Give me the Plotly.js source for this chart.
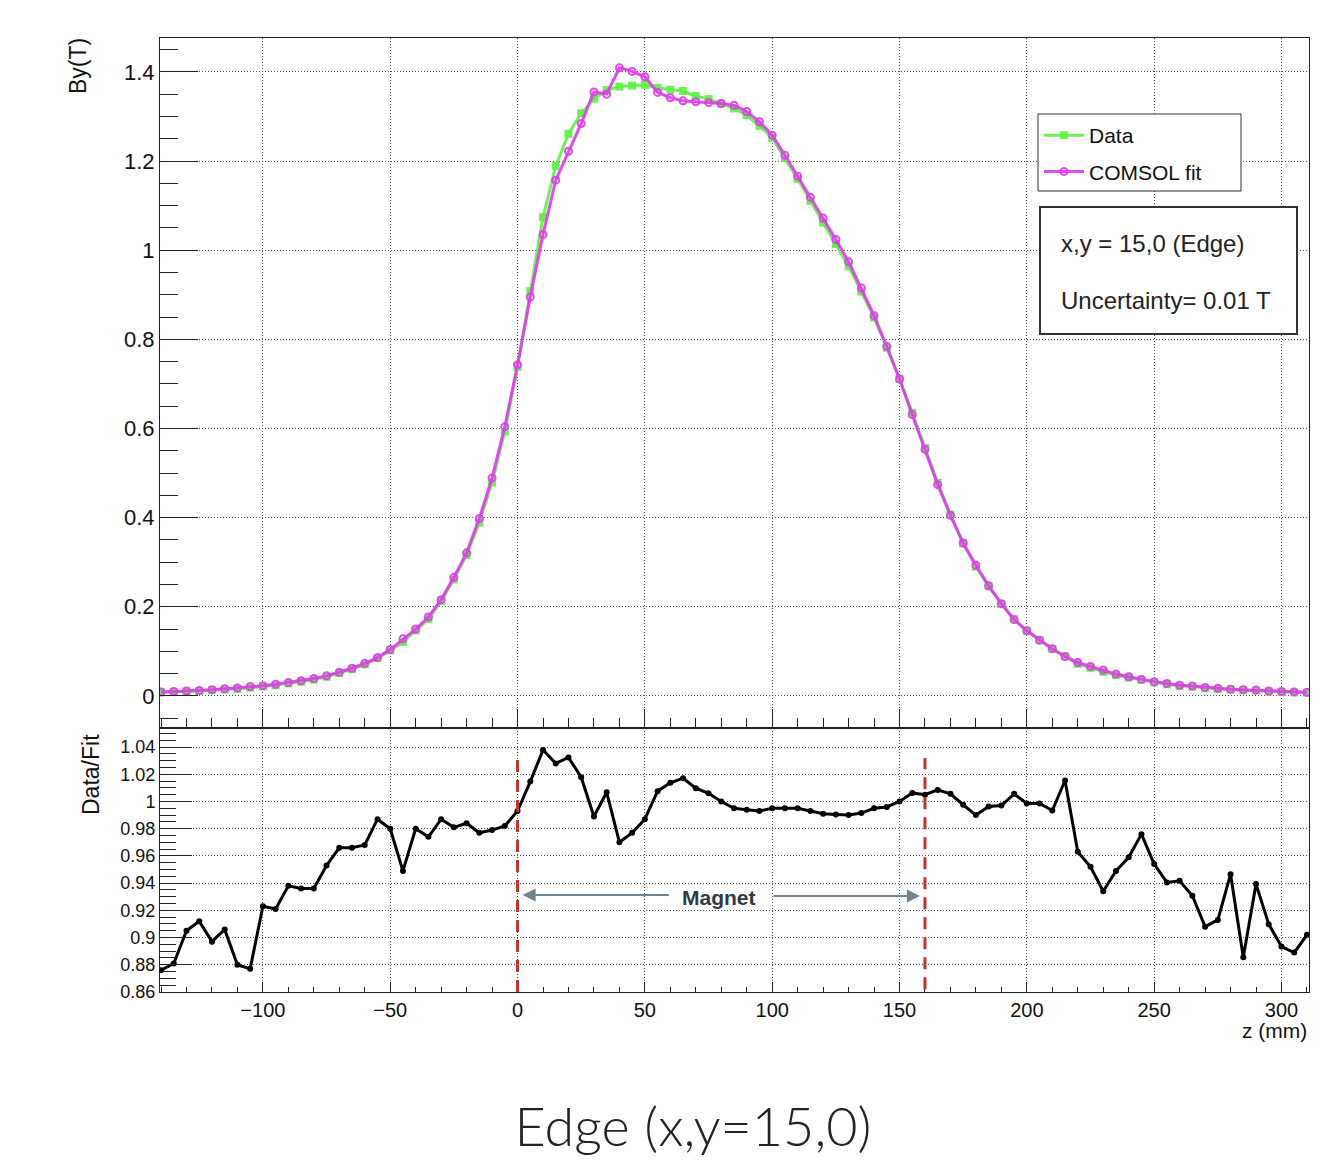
<!DOCTYPE html>
<html><head><meta charset="utf-8">
<script src="https://cdn.plot.ly/plotly-3.0.1.min.js"></script>
<style>html,body{margin:0;padding:0;background:#fff;}#chart{width:1331px;height:1161px;}</style>
</head><body><div id="chart"></div>
<script>
// z positions (mm)
const zPositions = [-140,-135,-130,-125,-120,-115,-110,-105,-100,-95,-90,-85,-80,-75,-70,-65,-60,-55,-50,-45,-40,-35,-30,-25,-20,-15,-10,-5,0,5,10,15,20,25,30,35,40,45,50,55,60,65,70,75,80,85,90,95,100,105,110,115,120,125,130,135,140,145,150,155,160,165,170,175,180,185,190,195,200,205,210,215,220,225,230,235,240,245,250,255,260,265,270,275,280,285,290,295,300,305,310];
// Measured By (T)
const dataBy = [0.0079,0.0088,0.0100,0.0109,0.0126,0.0145,0.0158,0.0184,0.0212,0.0239,0.0281,0.0318,0.0365,0.0429,0.0512,0.0599,0.0707,0.0849,0.102,0.121,0.147,0.172,0.213,0.261,0.316,0.389,0.479,0.593,0.738,0.908,1.074,1.189,1.261,1.307,1.340,1.359,1.367,1.369,1.371,1.364,1.360,1.357,1.346,1.339,1.329,1.318,1.303,1.279,1.252,1.207,1.160,1.111,1.062,1.014,0.964,0.907,0.849,0.781,0.711,0.635,0.556,0.478,0.407,0.342,0.290,0.246,0.206,0.172,0.146,0.125,0.105,0.089,0.072,0.063,0.054,0.0465,0.0412,0.0361,0.0305,0.0263,0.0226,0.0205,0.0173,0.0155,0.0142,0.0124,0.0122,0.0100,0.0089,0.0080,0.0072];
// COMSOL fit By (T)
const fitBy = [0.009,0.010,0.011,0.012,0.014,0.016,0.018,0.021,0.023,0.026,0.030,0.034,0.039,0.045,0.053,0.062,0.073,0.086,0.104,0.128,0.150,0.177,0.216,0.266,0.321,0.398,0.489,0.604,0.743,0.895,1.035,1.157,1.222,1.284,1.355,1.350,1.409,1.401,1.389,1.354,1.342,1.335,1.333,1.331,1.329,1.325,1.311,1.288,1.258,1.213,1.166,1.119,1.072,1.024,0.974,0.915,0.853,0.784,0.711,0.631,0.553,0.474,0.405,0.343,0.293,0.247,0.207,0.171,0.146,0.125,0.106,0.088,0.075,0.066,0.058,0.049,0.043,0.037,0.032,0.028,0.024,0.022,0.019,0.017,0.015,0.014,0.013,0.011,0.010,0.009,0.008];
// Data / Fit ratio
const ratio = [0.876,0.881,0.905,0.912,0.897,0.906,0.880,0.877,0.923,0.921,0.938,0.936,0.936,0.953,0.966,0.966,0.968,0.987,0.980,0.949,0.980,0.974,0.987,0.981,0.984,0.977,0.979,0.982,0.993,1.0146,1.0378,1.028,1.0324,1.0178,0.989,1.0068,0.970,0.977,0.987,1.0076,1.0137,1.0171,1.0098,1.006,1.000,0.995,0.994,0.993,0.995,0.995,0.995,0.993,0.991,0.9905,0.990,0.9915,0.995,0.996,1.000,1.0063,1.005,1.0085,1.0056,0.9976,0.990,0.9963,0.997,1.0056,0.9985,0.9985,0.9934,1.0154,0.963,0.952,0.934,0.949,0.959,0.976,0.954,0.9405,0.9417,0.9307,0.908,0.913,0.9466,0.8856,0.9393,0.9098,0.8934,0.889,0.902];
const seriesNames = ['Data', 'COMSOL fit'];
const magnetEdges = [0, 160];
const magnetLabel = 'Magnet';
const infoLines = ['x,y = 15,0 (Edge)', 'Uncertainty= 0.01 T'];

const FONT = 'Liberation Sans, Arial, Helvetica, sans-serif';
const GREEN = 'rgba(96,238,70,0.9)';
const MAGENTA = 'rgba(224,60,238,0.92)';
const GRID = '#555';

const traces = [
  {x: zPositions, y: dataBy, name: seriesNames[0], type: 'scatter', mode: 'lines+markers',
   xaxis: 'x', yaxis: 'y', legendgroup: 'a',
   line: {color: GREEN, width: 3}, marker: {symbol: 'square', size: 8, color: GREEN}},
  {x: zPositions, y: fitBy, name: seriesNames[1], type: 'scatter', mode: 'lines+markers',
   xaxis: 'x', yaxis: 'y', legendgroup: 'b',
   line: {color: MAGENTA, width: 3}, marker: {symbol: 'circle-open', size: 7, color: MAGENTA, line: {width: 2, color: MAGENTA}}},
  {x: zPositions, y: ratio, name: 'Data/Fit', type: 'scatter', mode: 'lines+markers',
   xaxis: 'x2', yaxis: 'y2', showlegend: false,
   line: {color: '#000', width: 3}, marker: {symbol: 'circle', size: 6, color: '#000'}}
];

const split = (992 - 728) / 954;
const xr = [-140.4, 310.8];
const px = v => (v - 160) / 1149;      // canvas x -> paper
const py = v => 1 - (v - 38) / 954;    // canvas y -> paper

const common = {showline: true, linecolor: '#222', linewidth: 1, mirror: true, zeroline: false,
  showgrid: true, gridcolor: GRID, griddash: '1px,2px', gridwidth: 1, ticks: 'inside', tickcolor: '#222',
  tickfont: {family: FONT, size: 20, color: '#111'}};

const layout = {
  width: 1331, height: 1161,
  margin: {l: 160, r: 22, t: 38, b: 169},
  paper_bgcolor: '#fff', plot_bgcolor: '#fff',
  showlegend: true,
  hovermode: false,
  title: {text: 'Edge (x,y=15,0)', font: {family: 'Lato, Noto Sans, sans-serif', size: 54, weight: 300, color: '#222'},
          xref: 'container', yref: 'container', x: 693/1331, xanchor: 'center', y: 1 - 1127/1161, yanchor: 'middle'},
  legend: {x: px(1038), y: py(114), xanchor: 'left', yanchor: 'top',
           bordercolor: 'rgba(0,0,0,0)', borderwidth: 1, bgcolor: 'rgba(0,0,0,0)',
           font: {family: FONT, size: 21, color: '#111'},
           traceorder: 'grouped', tracegroupgap: 6, itemwidth: 40},
  xaxis: Object.assign({}, common, {domain: [0, 1], anchor: 'y', range: xr, tick0: 0, dtick: 50,
    ticklen: 19, showticklabels: false, matches: 'x2',
    minor: {ticks: 'inside', ticklen: 10, dtick: 10, tick0: 0, tickcolor: '#222', showgrid: false}}),
  yaxis: Object.assign({}, common, {domain: [split, 1], anchor: 'x', range: [-0.072, 1.476], tick0: 0, dtick: 0.2,
    ticklen: 38, tickfont: {family: FONT, size: 22, color: '#111'},
    minor: {ticks: 'inside', ticklen: 18, dtick: 0.05, tick0: 0, tickcolor: '#222', showgrid: false}}),
  xaxis2: Object.assign({}, common, {domain: [0, 1], anchor: 'y2', range: xr, tick0: 0, dtick: 50,
    ticklen: 10, tickfont: {family: FONT, size: 20, color: '#111'},
    minor: {ticks: 'inside', ticklen: 5, dtick: 10, tick0: 0, tickcolor: '#222', showgrid: false}}),
  yaxis2: Object.assign({}, common, {domain: [0, split], anchor: 'x2', range: [0.86, 1.054], tick0: 0.86, dtick: 0.02,
    ticklen: 32, tickfont: {family: FONT, size: 18, color: '#111'},
    minor: {ticks: 'inside', ticklen: 16, dtick: 0.005, tick0: 0.86, tickcolor: '#222', showgrid: false}}),
  shapes: [
    {type: 'line', xref: 'x2', yref: 'y2', x0: magnetEdges[0], x1: magnetEdges[0], y0: 0.86, y1: 1.036,
     line: {color: '#c8302a', width: 3, dash: '12px,8px'}},
    {type: 'line', xref: 'x2', yref: 'y2', x0: magnetEdges[1], x1: magnetEdges[1], y0: 0.862, y1: 1.032,
     line: {color: '#c8302a', width: 3, dash: '12px,8px'}},
    // legend frame
    {type: 'rect', xref: 'paper', yref: 'paper', x0: px(1038), x1: px(1241), y0: py(191), y1: py(114),
     line: {color: '#333', width: 1}, fillcolor: '#fff', layer: 'above'},
    // info box frame
    {type: 'rect', xref: 'paper', yref: 'paper', x0: px(1040), x1: px(1297), y0: py(334), y1: py(207),
     line: {color: '#333', width: 2}, fillcolor: '#fff', layer: 'above'}
  ],
  annotations: [
    {text: 'By(T)', xref: 'paper', yref: 'paper', x: px(78), y: py(66), textangle: -90,
     showarrow: false, xanchor: 'center', yanchor: 'middle', font: {family: FONT, size: 23, color: '#111'}},
    {text: 'Data/Fit', xref: 'paper', yref: 'paper', x: px(91), y: (992-775)/954, textangle: -90,
     showarrow: false, xanchor: 'center', yanchor: 'middle', font: {family: FONT, size: 23, color: '#111'}},
    {text: 'z (mm)', xref: 'paper', yref: 'paper', x: 1, y: -(1030-992)/954, xanchor: 'right', yanchor: 'middle',
     showarrow: false, font: {family: FONT, size: 21, color: '#111'}},
    {text: '<b>' + magnetLabel + '</b>', xref: 'x2', yref: 'y2', x: 79, y: 0.9298, showarrow: false,
     xanchor: 'center', yanchor: 'middle', font: {family: FONT, size: 21, color: '#2e3a44'}},
    {text: '', xref: 'x2', yref: 'y2', axref: 'x2', ayref: 'y2', x: 2, y: 0.9313, ax: 60, ay: 0.9313,
     showarrow: true, arrowhead: 2, arrowsize: 1.3, arrowwidth: 2, arrowcolor: '#6f8491'},
    {text: '', xref: 'x2', yref: 'y2', axref: 'x2', ayref: 'y2', x: 158, y: 0.9305, ax: 100, ay: 0.9305,
     showarrow: true, arrowhead: 2, arrowsize: 1.3, arrowwidth: 2, arrowcolor: '#6f8491'},
    {text: infoLines[0], xref: 'paper', yref: 'paper', x: px(1059), y: py(243),
     xanchor: 'left', yanchor: 'middle', showarrow: false, font: {family: FONT, size: 24, color: '#222'}},
    {text: infoLines[1], xref: 'paper', yref: 'paper', x: px(1059), y: py(300),
     xanchor: 'left', yanchor: 'middle', showarrow: false, font: {family: FONT, size: 24, color: '#222'}}
  ]
};

Plotly.newPlot('chart', traces, layout, {staticPlot: true, displayModeBar: false});
</script>
</body></html>
